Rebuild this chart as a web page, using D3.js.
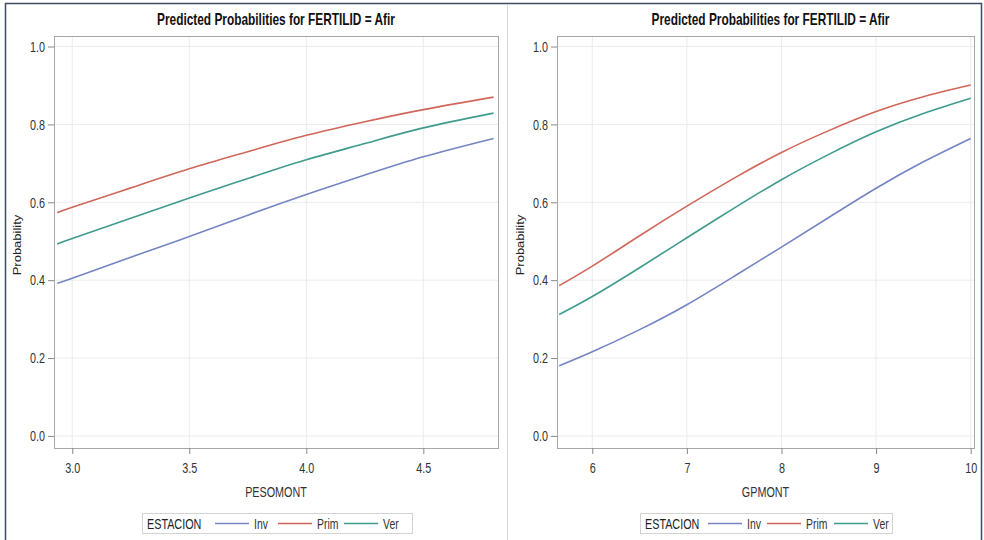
<!DOCTYPE html>
<html>
<head>
<meta charset="utf-8">
<script src="https://cdn.jsdelivr.net/npm/d3@7"></script>
<style>
  body { margin: 0; background: #fff; }
  svg { display: block; }
  text { font-family: "Liberation Sans", Arial, sans-serif; }
</style>
</head>
<body>
<div id="container"></div>
<script>
// series
const seasons = ['Inv', 'Prim', 'Ver'];
const seasonColors = ['#7584c4', '#d0675a', '#3f9b8c'];

const pesoX = [2.936, 3.0, 3.25, 3.5, 3.75, 4.0, 4.25, 4.5, 4.8];
const pesoInv = [0.392, 0.405, 0.459, 0.512, 0.567, 0.620, 0.670, 0.717, 0.764];
const pesoPrim = [0.573, 0.587, 0.637, 0.686, 0.730, 0.772, 0.807, 0.838, 0.870];
const pesoVer = [0.493, 0.507, 0.559, 0.611, 0.661, 0.709, 0.751, 0.791, 0.829];

const gpX = [5.65, 6, 6.5, 7, 7.5, 8, 8.5, 9, 9.5, 10];
const gpInv = [0.180, 0.216, 0.273, 0.337, 0.410, 0.485, 0.561, 0.636, 0.704, 0.764];
const gpPrim = [0.386, 0.436, 0.514, 0.590, 0.662, 0.728, 0.784, 0.833, 0.871, 0.901];
const gpVer = [0.312, 0.358, 0.432, 0.509, 0.585, 0.658, 0.723, 0.781, 0.828, 0.867];

const yTicks = [0.0, 0.2, 0.4, 0.6, 0.8, 1.0];
const pesoTicks = [3.0, 3.5, 4.0, 4.5];
const gpTicks = [6, 7, 8, 9, 10];

const titleText = 'Predicted Probabilities for FERTILID = Afir';

// the picture is squeezed sideways, so all text is narrowed
const squeeze = 0.72;

let viz = d3.select('#container')
    .append('svg')
    .attr('width', 984)
    .attr('height', 540);

// outer frame and the panel separator
viz.append('path')
    .attr('d', 'M5.5,540 V3.5 H981.5 V540')
    .attr('fill', 'none')
    .attr('stroke', '#3e4e60')
    .attr('stroke-width', 1.5);
viz.append('line')
    .attr('x1', 507.5).attr('x2', 507.5)
    .attr('y1', 4).attr('y2', 540)
    .attr('stroke', '#d4d6d9');

function addText(g, str, x, y, size, anchor) {
    return g.append('text')
        .text(str)
        .attr('transform', `translate(${x},${y}) scale(${squeeze},1)`)
        .attr('text-anchor', anchor || 'start')
        .attr('font-size', size)
        .attr('fill', '#222');
}

function drawPanel(p) {
    const x = d3.scaleLinear().domain(p.xDomain).range([p.left, p.right]);
    const y = d3.scaleLinear().domain([-0.031, 1.027]).range([448, 36]);

    let g = viz.append('g');

    // gridlines
    g.selectAll('.hgrid').data(yTicks).enter()
        .append('line')
        .attr('x1', p.left).attr('x2', p.right)
        .attr('y1', d => y(d)).attr('y2', d => y(d))
        .attr('stroke', '#ebebeb');
    g.selectAll('.vgrid').data(p.xTicks).enter()
        .append('line')
        .attr('x1', d => x(d)).attr('x2', d => x(d))
        .attr('y1', 36).attr('y2', 448)
        .attr('stroke', '#ebebeb');

    // curves
    let line = d3.line()
        .x(d => x(d[0]))
        .y(d => y(d[1]))
        .curve(d3.curveNatural);
    p.series.forEach((vals, i) => {
        g.append('path')
            .datum(p.xs.map((v, j) => [v, vals[j]]))
            .attr('d', line)
            .attr('fill', 'none')
            .attr('stroke', seasonColors[i])
            .attr('stroke-width', 1.6);
    });

    // frame
    g.append('rect')
        .attr('x', p.left + 0.5).attr('y', 36.5)
        .attr('width', p.right - p.left).attr('height', 412)
        .attr('fill', 'none')
        .attr('stroke', '#a3a8ad');

    // axes
    let yAxis = g.append('g')
        .attr('transform', `translate(${p.left},0)`)
        .call(d3.axisLeft(y).tickValues(yTicks).tickFormat(d3.format('.1f')).tickSize(6).tickPadding(3));
    let xAxis = g.append('g')
        .attr('transform', 'translate(0,448)')
        .call(d3.axisBottom(x).tickValues(p.xTicks).tickFormat(p.fmt).tickSize(6).tickPadding(8));
    [xAxis, yAxis].forEach(a => {
        a.select('.domain').remove();
        a.selectAll('.tick line').attr('stroke', '#888');
        a.selectAll('.tick text')
            .attr('font-family', '"Liberation Sans", Arial, sans-serif')
            .attr('font-size', 15)
            .attr('fill', '#333')
            .attr('transform', `scale(${squeeze},1)`);
    });
    yAxis.selectAll('.tick text').attr('x', -9 / squeeze);

    const cx = (p.left + p.right) / 2;
    addText(g, titleText, cx + p.titleShift, 25, 16.5, 'middle')
        .attr('font-weight', 'bold')
        .attr('fill', '#111');

    addText(g, p.xLabel, cx, 497, 15, 'middle').attr('fill', '#333');

    // rotated label: the squeeze falls on the glyph height here
    g.append('text')
        .text('Probability')
        .attr('transform', `translate(${p.left - 33},245) rotate(-90) scale(1,0.8)`)
        .attr('text-anchor', 'middle')
        .attr('font-size', 13)
        .attr('fill', '#222');

    // legend
    let lg = g.append('g').attr('transform', `translate(${p.legendX},513)`);
    lg.append('rect')
        .attr('x', 0.5).attr('y', 0.5)
        .attr('width', p.legendW).attr('height', 20)
        .attr('fill', 'none')
        .attr('stroke', '#d3d3d3');
    addText(lg, 'ESTACION', 5, 15.5, 15);
    let items = lg.selectAll('.item').data(seasons).enter()
        .append('g')
        .attr('transform', (d, i) => `translate(${p.legendItems[i]},0)`);
    items.append('line')
        .attr('x1', 0).attr('x2', 34)
        .attr('y1', 10.5).attr('y2', 10.5)
        .attr('stroke', (d, i) => seasonColors[i])
        .attr('stroke-width', 1.6);
    items.each(function (d) {
        addText(d3.select(this), d, 39, 15.5, 14.5).attr('fill', '#333');
    });
}

drawPanel({
    left: 54, right: 498,
    xDomain: [2.922, 4.819],
    xTicks: pesoTicks, fmt: d3.format('.1f'),
    xs: pesoX, series: [pesoInv, pesoPrim, pesoVer],
    xLabel: 'PESOMONT', titleShift: 0,
    legendX: 142, legendW: 270, legendItems: [73, 136, 202]
});

drawPanel({
    left: 557, right: 974,
    xDomain: [5.627, 10.035],
    xTicks: gpTicks, fmt: d3.format('d'),
    xs: gpX, series: [gpInv, gpPrim, gpVer],
    xLabel: 'GPMONT', titleShift: 5,
    legendX: 640, legendW: 252, legendItems: [68, 127, 194]
});
</script>
</body>
</html>
